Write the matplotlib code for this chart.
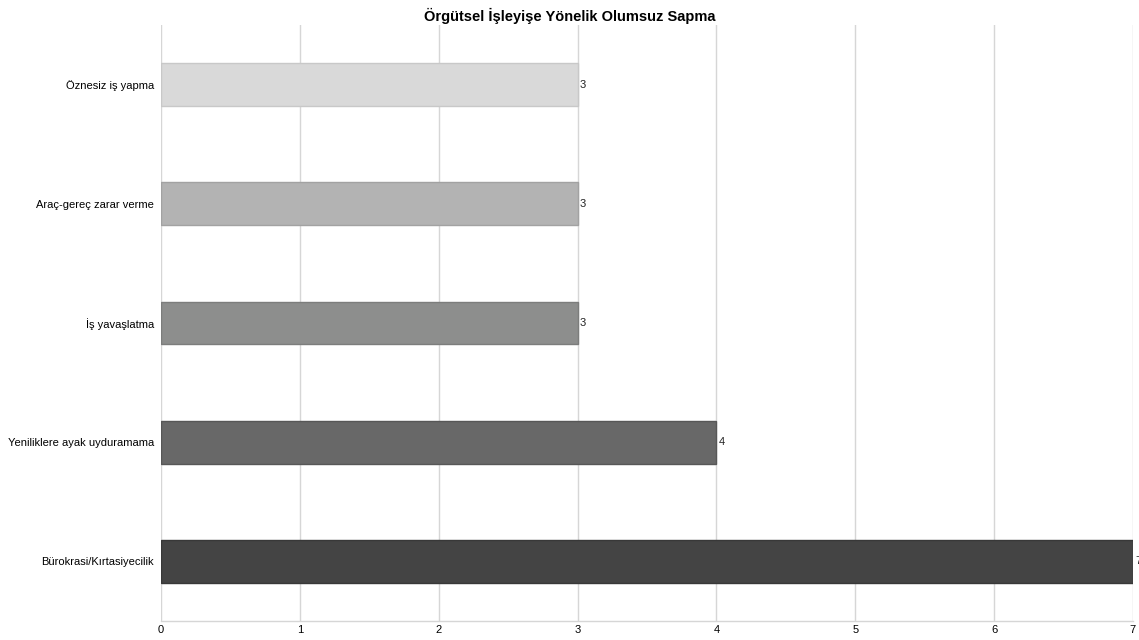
import matplotlib.pyplot as plt

plt.rcParams['font.family'] = ['Liberation Sans', 'DejaVu Sans']

# Sapma türleri ve frekansları (üstten alta)
categories = ["Öznesiz iş yapma", "Araç-gereç zarar verme", "İş yavaşlatma",
              "Yeniliklere ayak uyduramama", "Bürokrasi/Kırtasiyecilik"]
values = [3, 3, 3, 4, 7]
colors = ["#d9d9d9", "#b3b3b3", "#8d8e8d", "#686868", "#444444"]
edges = ["#c8c8c8", "#a2a2a2", "#7c7d7c", "#575757", "#383838"]

fig = plt.figure(figsize=(11.39, 6.4), dpi=100)
ax = fig.add_axes([0.1414, 0.0297, 0.8533, 0.9313])

ypos = list(range(len(categories)))
ax.barh(ypos, values, height=0.36, color=colors, edgecolor=edges, linewidth=1, zorder=3)

for y, v in zip(ypos, values):
    ax.text(v + 0.015, y, str(v), va="center", ha="left", fontsize=8,
            color="#222222", clip_on=False)

ax.set_ylim(len(categories) - 0.5, -0.5)
ax.set_xlim(0, 7)
ax.set_yticks(ypos)
ax.set_yticklabels(categories, fontsize=8)
ax.set_xticks(range(0, 8))
ax.tick_params(axis="x", labelsize=8, length=0, pad=3)
ax.tick_params(axis="y", length=0, pad=5)

ax.grid(axis="x", color="#d6d6d6", linewidth=1, zorder=0)
for side in ["top", "right", "left"]:
    ax.spines[side].set_visible(False)
ax.spines["bottom"].set_color("#d6d6d6")
ax.spines["bottom"].set_linewidth(1)

fig.suptitle("Örgütsel İşleyişe Yönelik Olumsuz Sapma", fontsize=10.5,
             fontweight="bold", y=0.988, va="top")

fig.savefig("out.png", dpi=100)
